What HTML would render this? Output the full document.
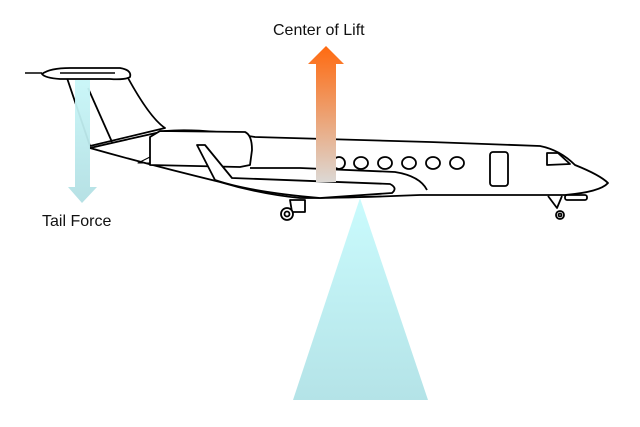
<!DOCTYPE html>
<html><head><meta charset="utf-8"><style>
html,body{margin:0;padding:0;background:#fff;width:640px;height:427px;overflow:hidden}
svg{display:block}
text{font-family:"Liberation Sans",Arial,sans-serif;font-size:16px;fill:#111}
</style></head><body>
<svg width="640" height="427" viewBox="0 0 640 427" xmlns="http://www.w3.org/2000/svg">
<defs>
<linearGradient id="og" x1="0" y1="0" x2="0" y2="1">
<stop offset="0" stop-color="#ff6a10"/><stop offset="0.5" stop-color="#eda070"/><stop offset="1" stop-color="#dcd8d4"/></linearGradient>
<linearGradient id="cg" x1="0" y1="0" x2="0" y2="1">
<stop offset="0" stop-color="#cafbfd"/><stop offset="1" stop-color="#b4e3e7"/></linearGradient>
<linearGradient id="tg" x1="0" y1="0" x2="0" y2="1">
<stop offset="0" stop-color="#c8f6f8"/><stop offset="1" stop-color="#b2dfe3"/></linearGradient>
</defs>
<g fill="#fff" stroke="#000" stroke-width="1.8" stroke-linejoin="round">
<!-- fin -->
<path d="M67 78 L90 146 L165 128 Q150 118 128 78 Z"/>
<path d="M88 88 L112 142" fill="none"/>
<!-- fuselage -->
<path d="M90 148 Q120 141 165 131 Q200 128 255 137 L430 142 L540 146 Q560 150 575 165 Q600 175 608 183 Q600 192 565 195 L420 195 Q350 198 300 198 Q260 194 220 182 Q150 165 90 148 Z"/>
<!-- engine -->
<path d="M150 137 L160 131 L245 132 Q252 135 252 150 L250 165 L240 167 L150 165 Z"/>
<path d="M150 157 L138 163 L150 163" fill="none" stroke-width="1"/>
<!-- wing root fairing -->
<path d="M250 168 Q270 168 300 168 L395 172 Q420 176 427 190" fill="none"/>
<!-- wing -->
<path d="M197 145 L205 145 L232 178 L390 184 Q398 188 392 193 L320 198 Q250 192 215 180 Z"/>
<!-- stabilizer -->
<path d="M42 74 Q50 68 70 68 L120 68 Q132 70 130 77 Q125 80 110 79 L60 79 Q45 78 42 74 Z"/>
<path d="M60 73 L115 73" stroke-width="1.5"/>
<!-- windows -->
<ellipse cx="339" cy="163" rx="6" ry="6"/>
<ellipse cx="361" cy="163" rx="7" ry="6"/>
<ellipse cx="385" cy="163" rx="7" ry="6"/>
<ellipse cx="409" cy="163" rx="7" ry="6"/>
<ellipse cx="433" cy="163" rx="7" ry="6"/>
<ellipse cx="457" cy="163" rx="7" ry="6"/>
<rect x="490" y="152" width="18" height="34" rx="3"/>
<path d="M547 153 L558 153 L570 164 L547 165 Z"/>
<!-- gear -->
<path d="M290 200 L305 200 L305 212 L292 212 Z"/>
<circle cx="287" cy="214" r="6"/><circle cx="287" cy="214" r="2.5"/>
<path d="M548 196 L557 208 L562 196" fill="none"/>
<rect x="565" y="195" width="22" height="5" rx="2"/>
<circle cx="560" cy="215" r="4"/><circle cx="560" cy="215" r="1.5"/>
</g>
<line x1="25" y1="73" x2="42" y2="73" stroke="#000" stroke-width="1.5"/>
<!-- tail force arrow -->
<path d="M75 80 L90 80 L90 187 L97 187 L82 203 L68 187 L75 187 Z" fill="url(#tg)" opacity="0.95"/>
<!-- lift arrow -->
<path d="M316 182 L316 64 L308 64 L326 46 L344 64 L336 64 L336 182 Z" fill="url(#og)"/>
<!-- triangle -->
<path d="M360 198 L428 400 L293 400 Z" fill="url(#cg)"/>
<text x="273" y="35">Center of Lift</text>
<text x="42" y="226">Tail Force</text>
</svg>
</body></html>
